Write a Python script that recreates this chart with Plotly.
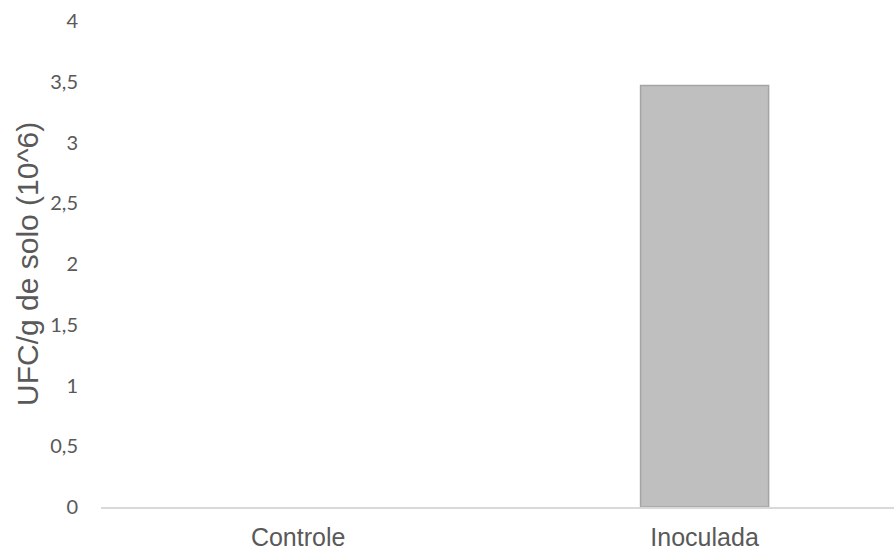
import plotly.graph_objects as go

categories = ["Controle", "Inoculada"]
values = [0, 3.47]
y_ticks = [0, 0.5, 1, 1.5, 2, 2.5, 3, 3.5, 4]
y_tick_labels = ["0", "0,5", "1", "1,5", "2", "2,5", "3", "3,5", "4"]
y_title = "UFC/g de solo (10^6)"

fig = go.Figure()
fig.add_trace(go.Bar(
    x=categories, y=values, width=0.315,
    marker=dict(color="#bfbfbf",
                line=dict(color="#a5a5a5", width=[0 if v == 0 else 1.5 for v in values])),
))

fig.update_layout(
    width=894, height=552,
    margin=dict(l=101, r=0, t=21, b=45, autoexpand=False),
    paper_bgcolor="white", plot_bgcolor="white",
    showlegend=False,
    xaxis=dict(
        type="category", range=[-0.485, 1.466], automargin=False,
        showgrid=False, zeroline=False,
        showline=True, linecolor="#d9d9d9", linewidth=1.5,
        ticks="", ticklabelstandoff=7,
        tickfont=dict(family="Liberation Sans, Arial", size=25, color="#595959"),
    ),
    yaxis=dict(
        range=[0, 4], tickvals=y_ticks, ticktext=y_tick_labels, automargin=False,
        showgrid=False, zeroline=False, showline=False,
        ticks="", ticklabelstandoff=22,
        tickfont=dict(family="Lato, Open Sans", size=20, color="#595959"),
    ),
    annotations=[dict(
        text=y_title, textangle=-90, xref="paper", yref="paper",
        x=0, y=0.5, xanchor="center", yanchor="middle", xshift=-74,
        showarrow=False,
        font=dict(family="Liberation Sans, Arial", size=30, color="#595959"),
    )],
)

fig.write_html("out.html")
